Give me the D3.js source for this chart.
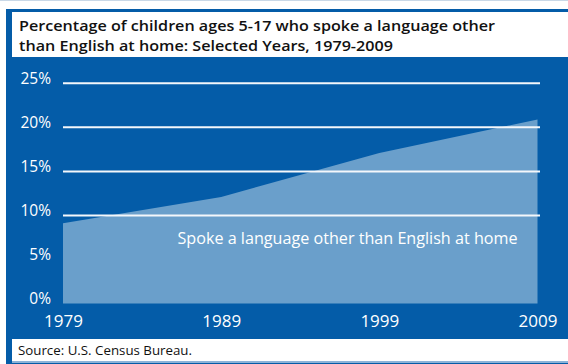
<!DOCTYPE html>
<html>
<head>
<meta charset="utf-8">
<script src="https://cdn.jsdelivr.net/npm/d3@7"></script>
<style>
  html, body { margin: 0; padding: 0; background: #fff; }
  svg { display: block; font-family: "Open Sans", "Noto Sans", sans-serif; }
</style>
</head>
<body>
<svg id="chart" width="568" height="364"></svg>
<script>
const years = [1979, 1989, 1999, 2009];
const percentSpoke = [9.1, 12.1, 17.1, 20.9];
const yTicks = [0, 5, 10, 15, 20, 25];
const gridTicks = [10, 15, 20, 25];

const titleLines = [
  'Percentage of children ages 5-17 who spoke a language other',
  'than English at home: Selected Years, 1979-2009'
];
const seriesLabel = 'Spoke a language other than English at home';
const sourceText = 'Source: U.S. Census Bureau.';

const blue = '#045ca8';
const areaFill = '#6a9fcb';

const width = 568, height = 364;
const svg = d3.select('#chart');

// frame
svg.append('rect').attr('x', 0).attr('y', 0).attr('width', width).attr('height', 1).attr('fill', '#c9d8e7');
svg.append('rect').attr('x', 6).attr('y', 9).attr('width', width - 6).attr('height', height - 9).attr('fill', blue);
svg.append('rect').attr('x', 12).attr('y', 12).attr('width', width - 12).attr('height', 45).attr('fill', '#fff');
svg.append('rect').attr('x', 12).attr('y', 339).attr('width', width - 12).attr('height', 22).attr('fill', '#fff');
svg.append('rect').attr('x', 12).attr('y', 361).attr('width', width - 12).attr('height', 2).attr('fill', '#8db3d8');

// title
const titleWidths = [476, 374];
svg.selectAll('.title')
  .data(titleLines)
  .enter()
  .append('text')
  .attr('class', 'title')
  .attr('x', 19)
  .attr('y', (d, i) => 31 + i * 20)
  .attr('textLength', (d, i) => titleWidths[i])
  .attr('lengthAdjust', 'spacingAndGlyphs')
  .style('font-size', '15px')
  .style('font-weight', '600')
  .style('fill', '#111')
  .text(d => d);

// scales
const x = d3.scaleLinear().domain([1979, 2009]).range([63, 537.5]);
const y = d3.scaleLinear().domain([0, 25]).range([303.5, 83.3]);

const data = years.map((yr, i) => ({ year: yr, value: percentSpoke[i] }));

const area = d3.area()
  .x(d => x(d.year))
  .y0(y(0))
  .y1(d => y(d.value));

svg.append('path')
  .datum(data)
  .attr('d', area)
  .attr('fill', areaFill);

// gridlines over the area
svg.selectAll('.grid')
  .data(gridTicks)
  .enter()
  .append('line')
  .attr('class', 'grid')
  .attr('x1', 63)
  .attr('x2', 540)
  .attr('y1', d => y(d))
  .attr('y2', d => y(d))
  .attr('stroke', '#f4f7fb')
  .attr('stroke-width', 2);

// y axis labels
const yAxis = d3.axisLeft(y)
  .tickValues(yTicks)
  .tickFormat(d => d + '%')
  .tickSize(0)
  .tickPadding(0);

const yg = svg.append('g')
  .attr('transform', 'translate(51,0)')
  .call(yAxis);
yg.select('.domain').remove();
yg.selectAll('text')
  .attr('dy', 0)
  .style('font-family', '"Open Sans", sans-serif')
  .style('font-size', '15.5px')
  .style('fill', '#fff');

// x axis labels
const xAxis = d3.axisBottom(x)
  .tickValues(years)
  .tickFormat(d3.format('d'))
  .tickSize(0)
  .tickPadding(0);

const xg = svg.append('g')
  .attr('transform', 'translate(0,327)')
  .call(xAxis);
xg.select('.domain').remove();
xg.selectAll('text')
  .attr('y', 0)
  .attr('dy', 0)
  .style('font-family', '"Open Sans", sans-serif')
  .style('font-size', '17px')
  .style('fill', '#fff');

// series label
svg.append('text')
  .attr('x', 177.5)
  .attr('y', 244)
  .attr('textLength', 340)
  .attr('lengthAdjust', 'spacingAndGlyphs')
  .style('font-size', '16px')
  .style('fill', '#fff')
  .text(seriesLabel);

// source
svg.append('text')
  .attr('x', 18)
  .attr('y', 355)
  .attr('textLength', 174)
  .attr('lengthAdjust', 'spacingAndGlyphs')
  .style('font-size', '13px')
  .style('fill', '#111')
  .text(sourceText);
</script>
</body>
</html>
